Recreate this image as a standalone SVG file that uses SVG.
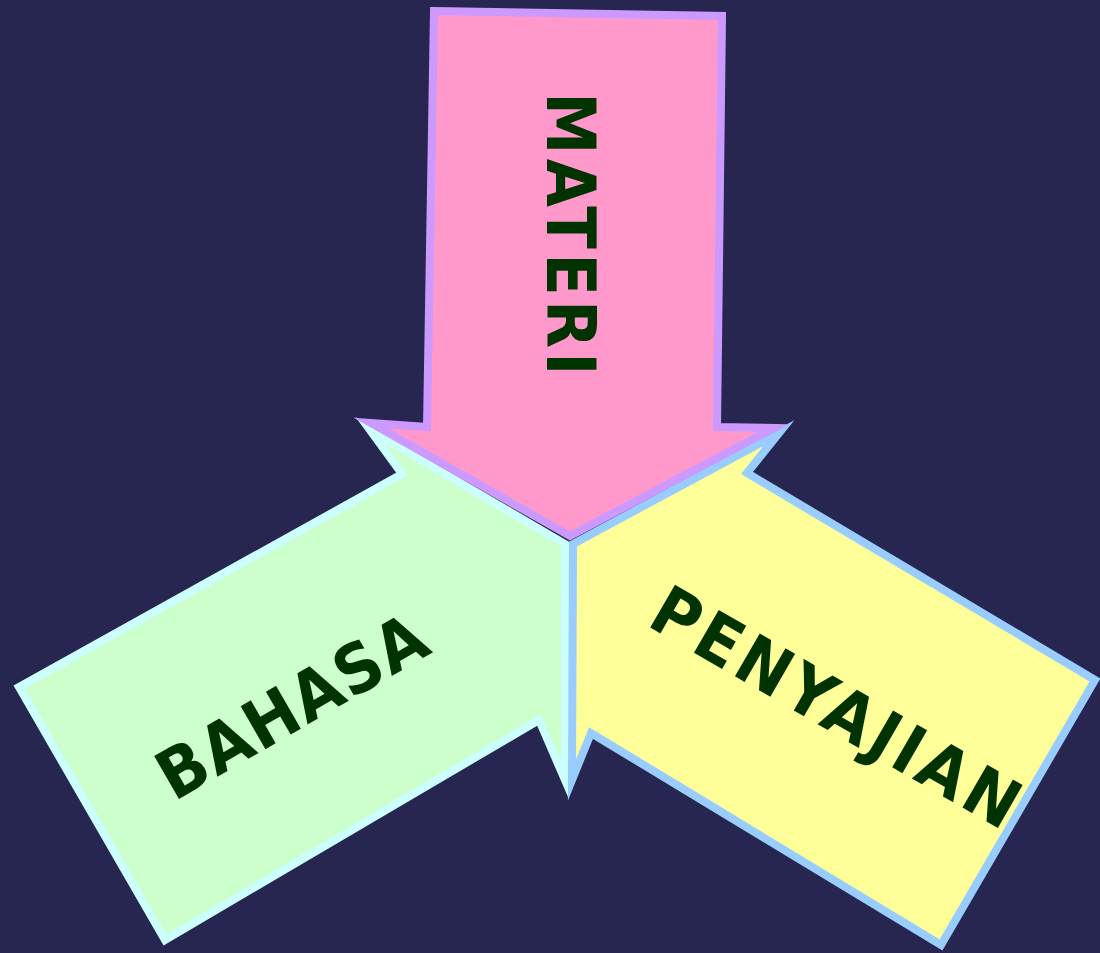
<svg xmlns="http://www.w3.org/2000/svg" width="1100" height="953" viewBox="0 0 1100 953">
<style>
.arrow{stroke-width:8;stroke-linejoin:miter;stroke-miterlimit:10}
.lbl{font-family:"DejaVu Sans",Verdana,sans-serif;font-weight:bold;font-size:68px;fill:#003300;text-anchor:middle;letter-spacing:2px}
</style>
<rect width="1100" height="953" fill="#272650"/>
<g id="connectors"/>
<g id="bahasa">
<polygon class="arrow" fill="#CCFFCC" stroke="#CCFFFF" points="565,544 565,780 539,720 165,940 19,687 402,474 370,430"/>
<text class="lbl" transform="translate(304.5,726.5) rotate(-30) scale(0.92,1)">BAHASA</text>
</g>
<g id="penyajian">
<polygon class="arrow" fill="#FFFF99" stroke="#99CCFF" points="573,544 779,433 747,473 1095,680 941,945 591,733 572,780"/>
<text class="lbl" style="letter-spacing:5px" transform="translate(826,729) rotate(30) scale(0.92,1)">PENYAJIAN</text>
</g>
<g id="materi">
<polygon class="arrow" fill="#FF99CC" stroke="#CC99FF" points="434,11 722,16 717,427 774,428 570,536 371,423 427,427"/>
<text class="lbl" style="letter-spacing:4.5px" transform="translate(547,236) rotate(90) scale(0.92,1)">MATERI</text>
</g>
</svg>
